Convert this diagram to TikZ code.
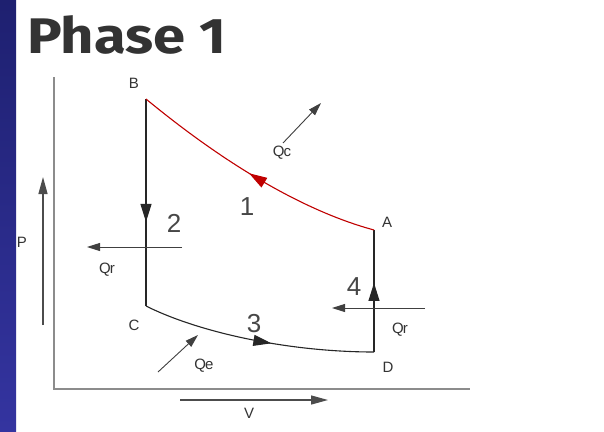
\documentclass[tikz,border=0pt]{standalone}
\usepackage{fontspec}
\setmainfont{Liberation Sans}
\newfontfamily\titlefont{Fira Sans}
\usetikzlibrary{arrows.meta,decorations.markings}
\definecolor{stripTop}{HTML}{1E2070}
\definecolor{stripBot}{HTML}{3434A0}
\definecolor{cycred}{HTML}{C00000}
\begin{document}
\begin{tikzpicture}[x=1pt,y=-1pt,
  cyc/.style={line width=1.1pt, draw=black!85},
  midtip/.style 2 args={postaction={decorate}, decoration={markings,
      mark=at position #1 with {\arrow{Triangle[length=18pt,width=11pt]}}}},
  heat/.style={line width=0.9pt, draw=black!75, -{Triangle[length=13pt,width=8pt]}},
  axisarrow/.style={line width=1.3pt, draw=black!70, -{Triangle[length=17pt,width=9pt]}},
  axisline/.style={line width=2.4pt, draw=black!45},
  lab/.style={font=\fontsize{15}{15}\selectfont, text=black!80, inner sep=0pt},
  num/.style={font=\fontsize{26}{26}\selectfont, text=black!72, inner sep=0pt}]
\useasboundingbox (0,0) rectangle (604,431);
\fill[white] (0,0) rectangle (604,431);
\shade[top color=stripTop, bottom color=stripBot] (0,0) rectangle (16,431);

% title
\node[font=\titlefont\bfseries\fontsize{50}{50}\selectfont, text=black!80, inner sep=0pt, anchor=base west, xscale=1.16] (title) at (27,53) {Phase 1};

% axes
\coordinate (axtop) at (54,77);
\coordinate (axorig) at (54,389);
\coordinate (axright) at (470,389);
\draw[axisline] (axtop) -- (axorig) -- (axright);

% cycle points
\coordinate (B) at (146,99);
\coordinate (C) at (146,306);
\coordinate (D) at (374,352);
\coordinate (A) at (374,230);

% cycle
\draw[cyc, midtip={0.594}{}] (B) -- (C);
\draw[cyc, midtip={0.56}{}] (C) .. controls (200,333) and (290,352) .. (D);
\draw[cyc, midtip={0.566}{}] (D) -- (A);
\draw[cyc, draw=cycred, color=cycred, midtip={0.52}{}] (A) .. controls (300,210) and (220,160) .. (B);

% heat arrows
\coordinate (qc1) at (283,143); \coordinate (qc2) at (321,103);
\coordinate (qrl1) at (182,247); \coordinate (qrl2) at (87,247);
\coordinate (qe1) at (158,372); \coordinate (qe2) at (198,335);
\coordinate (qrr1) at (425,308); \coordinate (qrr2) at (332,308);
\draw[heat] (qc1) -- (qc2);
\draw[heat] (qrl1) -- (qrl2);
\draw[heat] (qe1) -- (qe2);
\draw[heat] (qrr1) -- (qrr2);

% axis arrows
\coordinate (p1) at (43,325); \coordinate (p2) at (43,177);
\coordinate (v1) at (180,400); \coordinate (v2) at (328,400);
\draw[axisarrow] (p1) -- (p2);
\draw[axisarrow] (v1) -- (v2);

% labels
\node[lab] (lB) at (134,83) {B};
\node[lab] (lC) at (134,325) {C};
\node[lab] (lA) at (387,222) {A};
\node[lab] (lD) at (388,367) {D};
\node[lab] (lP) at (22,242) {P};
\node[lab] (lV) at (249,413) {V};
\node[lab] (lQc) at (282,153) {Q\kern-1pt c};
\node[lab] (lQr1) at (107,270) {Q\kern-0.8pt r};
\node[lab] (lQe) at (204,366) {Q\kern-1pt e};
\node[lab] (lQr2) at (400,330) {Q\kern-0.8pt r};

\node[num] (n1) at (247,207) {1};
\node[num] (n2) at (174,223) {2};
\node[num] (n3) at (254,324) {3};
\node[num] (n4) at (354,287) {4};
\end{tikzpicture}
\end{document}
